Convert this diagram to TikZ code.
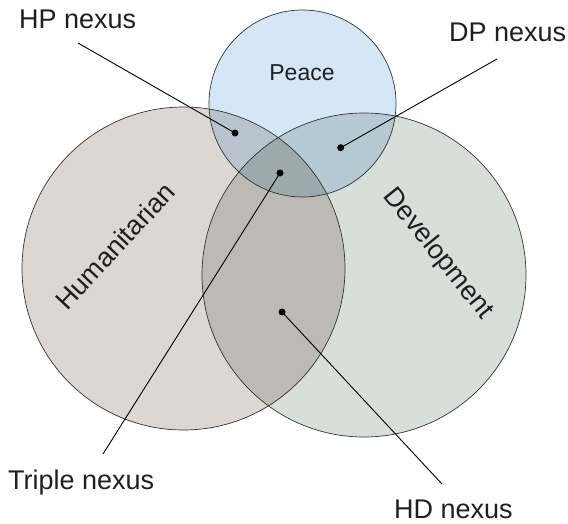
\documentclass[tikz,border=0pt]{standalone}
\usepackage{fontspec}
\setmainfont{Liberation Sans}
\usepackage{tikz}
\definecolor{peaceblue}{RGB}{213,231,247}
\definecolor{humgrey}{RGB}{221,215,211}
\definecolor{devgrey}{RGB}{216,222,217}
\definecolor{hpblue}{RGB}{185,195,204}
\definecolor{dpblue}{RGB}{180,201,210}
\definecolor{hdgrey}{RGB}{187,187,179}
\definecolor{triplegrey}{RGB}{156,169,173}
\colorlet{rimgrey}{black!80}

\begin{document}
\begin{tikzpicture}[x=1pt,y=-1pt,
    label/.style={font=\fontsize{27}{32}\selectfont, text=black!88, inner sep=0pt},
    nexus/.style={label, anchor=base west},
    dot/.style={circle, fill=black, inner sep=0pt, minimum size=7pt},
    leader/.style={black, line width=0.9pt}]
    \useasboundingbox (0,0) rectangle (568,524);
    % circles
    \def\hum{(183.5,268.5) circle (161.5)}
    \def\dev{(364,275) circle (162)}
    \def\pea{(302.5,103.5) circle (93.5)}
    \fill[humgrey] \hum;
    \fill[devgrey] \dev;
    \fill[peaceblue] \pea;
    % overlaps
    \begin{scope}
        \clip \hum;
        \fill[hdgrey] \dev;
        \fill[hpblue] \pea;
    \end{scope}
    \begin{scope}
        \clip \dev;
        \fill[dpblue] \pea;
    \end{scope}
    \begin{scope}
        \clip \hum;
        \clip \dev;
        \fill[triplegrey] \pea;
    \end{scope}
    \foreach \c in {\hum,\dev,\pea}{
        \draw[rimgrey, line width=0.7pt] \c;
    }
    % circle labels
    \node[label, font=\fontsize{23}{28}\selectfont, anchor=base] (peace) at (302,81) {Peace};
    \node[label, rotate=47] (humanitarian) at (115,246) {Humanitarian};
    \node[label, rotate=-51] (development) at (438,254) {Development};
    % nexus labels
    \node[nexus] (hplabel) at (19,29) {HP nexus};
    \node[nexus] (dplabel) at (449,42) {DP nexus};
    \node[nexus] (triplelabel) at (8,489) {Triple nexus};
    \node[nexus] (hdlabel) at (394,518.5) {HD nexus};
    % dots and leaders
    \node[dot] (hpdot) at (235,133) {};
    \node[dot] (dpdot) at (340.7,147.7) {};
    \node[dot] (tripledot) at (280,173) {};
    \node[dot] (hddot) at (282,312) {};
    \coordinate (hpend) at (78,43);
    \coordinate (dpend) at (497,59);
    \coordinate (tripleend) at (103,454);
    \coordinate (hdend) at (442,484);
    \draw[leader] (hpend) -- (hpdot.center);
    \draw[leader] (dpend) -- (dpdot.center);
    \draw[leader] (tripleend) -- (tripledot.center);
    \draw[leader] (hdend) -- (hddot.center);
\end{tikzpicture}
\end{document}
